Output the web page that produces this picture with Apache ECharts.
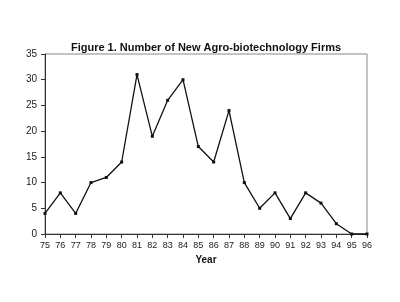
<!DOCTYPE html>
<html><head><meta charset="utf-8">
<script src="https://cdn.jsdelivr.net/npm/echarts@6/dist/echarts.min.js"></script>
<style>html,body{margin:0;padding:0;background:#fff}#c{width:400px;height:302px}</style>
</head><body><div id="c"></div>
<script>
var years = ['75','76','77','78','79','80','81','82','83','84','85','86','87','88','89','90','91','92','93','94','95','96'];
var firms = [4,8,4,10,11,14,31,19,26,30,17,14,24,10,5,8,3,8,6,2,0,0];
var chart = echarts.init(document.getElementById('c'));
chart.setOption({
  backgroundColor:'#fff',
  animation:false,
  title:{text:'Figure 1. Number of New Agro-biotechnology Firms',left:201,top:37,textAlign:'center',
    textStyle:{fontFamily:'Liberation Sans',fontWeight:'bold',fontSize:11,color:'#111'}},
  grid:{left:45,right:33,top:54,bottom:68,show:true,borderColor:'#888',borderWidth:1,backgroundColor:'transparent'},
  xAxis:{type:'category',data:years,boundaryGap:false,name:'Year',nameLocation:'middle',nameGap:21,
    nameTextStyle:{fontFamily:'Liberation Sans',fontWeight:'bold',fontSize:10,color:'#111'},
    axisLine:{lineStyle:{color:'#333',width:1}},
    axisTick:{show:true,alignWithLabel:true,length:4,lineStyle:{color:'#333'}},
    axisLabel:{fontFamily:'Liberation Sans',fontSize:9,color:'#222',margin:7},
    splitLine:{show:false}},
  yAxis:{type:'value',min:0,max:35,interval:5,
    axisLine:{show:true,lineStyle:{color:'#333',width:1}},
    axisTick:{show:true,length:4,lineStyle:{color:'#333'}},
    axisLabel:{fontFamily:'Liberation Sans',fontSize:10,color:'#222',margin:8},
    splitLine:{show:false}},
  series:[{type:'line',data:firms,symbol:'rect',symbolSize:3,showSymbol:true,
    lineStyle:{color:'#111',width:1.3},itemStyle:{color:'#111'}}]
});
</script></body></html>
